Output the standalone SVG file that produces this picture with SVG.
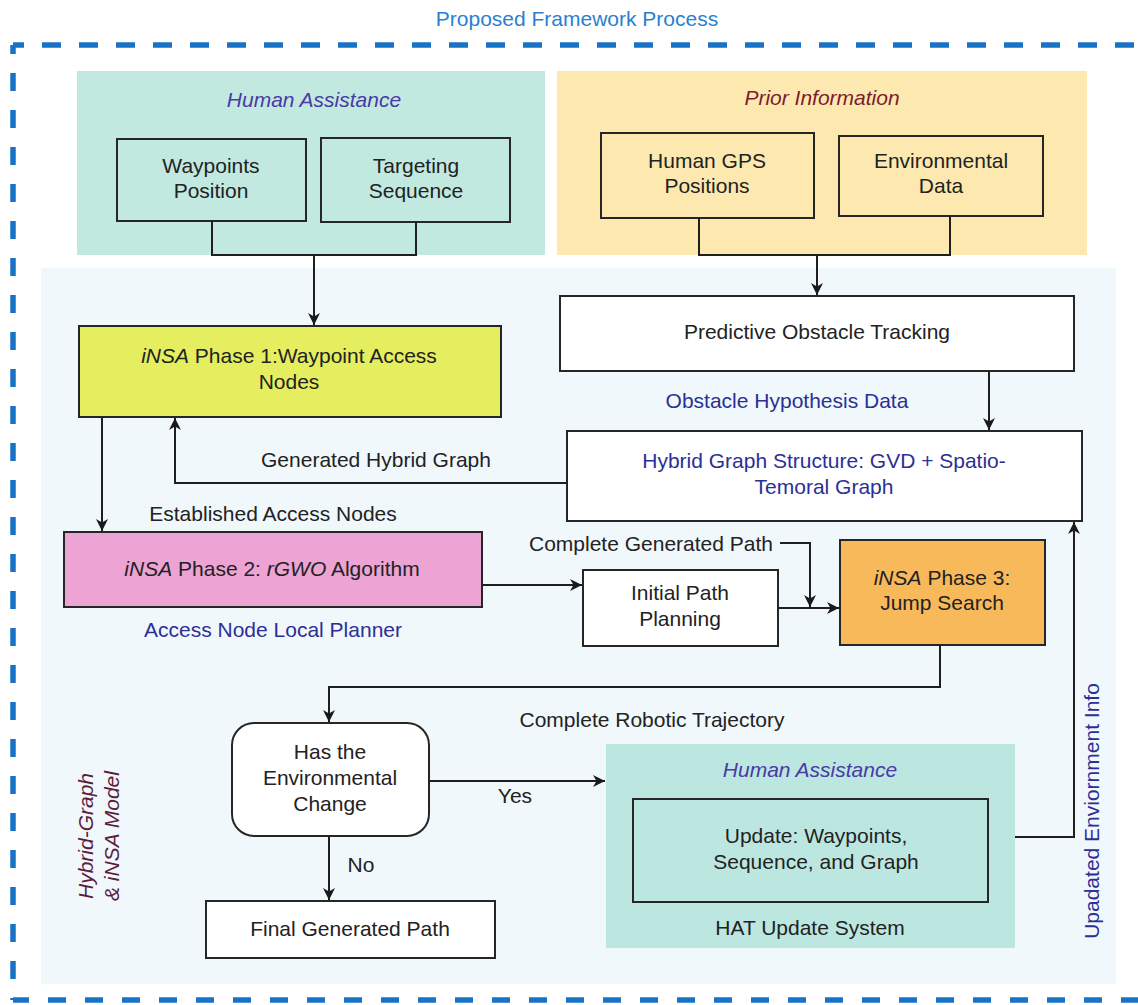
<svg xmlns="http://www.w3.org/2000/svg" width="1138" height="1005" viewBox="0 0 1138 1005">
  <defs>
    <marker id="arrow" markerUnits="userSpaceOnUse" markerWidth="13" markerHeight="12" refX="12" refY="6" orient="auto">
      <path d="M0,0 L12,6 L0,12 L3.5,6 z" fill="#1a1a1a"/>
    </marker>
    <style>
      text { font-family: "Liberation Sans", Arial, sans-serif; font-size: 21px; fill: #222; text-anchor: middle; }
      .title { font-size: 21px; fill: #2a7fd2; }
      .head-teal { font-style: italic; fill: #4b39a6; }
      .head-prior { font-style: italic; fill: #7a1c2c; }
      .blue { fill: #2c2f96; }
      .side { font-style: italic; fill: #5e1c3c; }
      .it { font-style: italic; }
      .box { stroke: #262626; stroke-width: 2; }
      .white { fill: #ffffff; }
      .teal { fill: #c1e9e0; }
      .conn { fill: none; stroke: #1f1f1f; stroke-width: 2; }
      .dash { fill: none; stroke: #1873c6; stroke-width: 5.5; }
    </style>
  </defs>

  <!-- outer framework border -->
  <text class="title" x="577" y="26">Proposed Framework Process</text>
  <path class="dash" d="M13,45 H1140" stroke-dasharray="19 18" stroke-dashoffset="8"/>
  <path class="dash" d="M13,45 V1000" stroke-dasharray="18 19" stroke-dashoffset="9"/>
  <path class="dash" d="M13,1000 H1140" stroke-dasharray="18 19" stroke-dashoffset="2"/>

  <!-- model region -->
  <rect id="model-region" x="41" y="268" width="1075" height="716" fill="#f0f8fc"/>
  <g id="model-label">
    <text class="side" transform="translate(93,836) rotate(-90)">Hybrid-Graph</text>
    <text class="side" transform="translate(119,836) rotate(-90)">&amp; iNSA Model</text>
  </g>

  <!-- human assistance inputs -->
  <g id="human-assistance">
    <rect x="77" y="71" width="468" height="184" class="teal"/>
    <text class="head-teal" x="314" y="107">Human Assistance</text>
  </g>
  <g id="waypoints-position">
    <rect x="117" y="139" width="189" height="82" class="box teal"/>
    <text x="211" y="173">Waypoints</text>
    <text x="211" y="198">Position</text>
  </g>
  <g id="targeting-sequence">
    <rect x="321" y="138" width="189" height="84" class="box teal"/>
    <text x="416" y="173">Targeting</text>
    <text x="416" y="198">Sequence</text>
  </g>

  <!-- prior information inputs -->
  <g id="prior-information">
    <rect x="557" y="71" width="530" height="184" fill="#fde9b0"/>
    <text class="head-prior" x="822" y="105">Prior Information</text>
  </g>
  <g id="human-gps">
    <rect x="601" y="133" width="213" height="85" class="box" fill="#fde9b0"/>
    <text x="707" y="168">Human GPS</text>
    <text x="707" y="193">Positions</text>
  </g>
  <g id="environmental-data">
    <rect x="839" y="136" width="204" height="80" class="box" fill="#fde9b0"/>
    <text x="941" y="168">Environmental</text>
    <text x="941" y="193">Data</text>
  </g>

  <!-- processing nodes -->
  <g id="predictive-tracking">
    <rect x="560" y="296" width="514" height="75" class="box white"/>
    <text x="817" y="339">Predictive Obstacle Tracking</text>
  </g>
  <g id="phase1">
    <rect x="79" y="326" width="422" height="91" class="box" fill="#e4ee5e"/>
    <text x="289" y="363"><tspan class="it">iNSA</tspan> Phase 1:Waypoint Access</text>
    <text x="289" y="389">Nodes</text>
  </g>
  <g id="hybrid-graph">
    <rect x="567" y="431" width="515" height="90" class="box white"/>
    <text class="blue" x="824" y="468">Hybrid Graph Structure: GVD + Spatio-</text>
    <text class="blue" x="824" y="494">Temoral Graph</text>
  </g>
  <g id="phase2">
    <rect x="64" y="532" width="418" height="75" class="box" fill="#eda3d4"/>
    <text x="272" y="576"><tspan class="it">iNSA</tspan> Phase 2: <tspan class="it">rGWO</tspan> Algorithm</text>
  </g>
  <g id="initial-path">
    <rect x="583" y="570" width="195" height="76" class="box white"/>
    <text x="680" y="600">Initial Path</text>
    <text x="680" y="626">Planning</text>
  </g>
  <g id="phase3">
    <rect x="840" y="540" width="205" height="105" class="box" fill="#f7b95a"/>
    <text x="942" y="585"><tspan class="it">iNSA</tspan> Phase 3:</text>
    <text x="942" y="610">Jump Search</text>
  </g>
  <g id="decision">
    <rect x="232" y="723" width="197" height="113" rx="22" ry="22" class="box white"/>
    <text x="330" y="759">Has the</text>
    <text x="330" y="785">Environmental</text>
    <text x="330" y="811">Change</text>
  </g>
  <g id="final-path">
    <rect x="206" y="901" width="289" height="57" class="box white"/>
    <text x="350" y="936">Final Generated Path</text>
  </g>
  <g id="hat-update">
    <rect x="606" y="744" width="409" height="204" fill="#bce7e0"/>
    <text class="head-teal" x="810" y="777">Human Assistance</text>
    <rect x="633" y="799" width="355" height="103" class="box" fill="#bce7e0"/>
    <text x="816" y="843">Update: Waypoints,</text>
    <text x="816" y="869">Sequence, and Graph</text>
    <text x="810" y="935">HAT Update System</text>
  </g>

  <!-- connectors -->
  <g id="connectors">
    <path class="conn" d="M212,221 V255 H416 V222"/>
    <path class="conn" d="M314,255 V325" marker-end="url(#arrow)"/>
    <path class="conn" d="M699,218 V255 H950 V216"/>
    <path class="conn" d="M817,255 V295" marker-end="url(#arrow)"/>
    <path class="conn" d="M989,371 V430" marker-end="url(#arrow)"/>
    <path class="conn" d="M567,483 H175 V418" marker-end="url(#arrow)"/>
    <path class="conn" d="M102,417 V531" marker-end="url(#arrow)"/>
    <path class="conn" d="M482,585 H582" marker-end="url(#arrow)"/>
    <path class="conn" d="M780,543 H810 V607" marker-end="url(#arrow)"/>
    <path class="conn" d="M778,608 H839" marker-end="url(#arrow)"/>
    <path class="conn" d="M940,645 V687 H329 V722" marker-end="url(#arrow)"/>
    <path class="conn" d="M429,781 H605" marker-end="url(#arrow)"/>
    <path class="conn" d="M329,836 V900" marker-end="url(#arrow)"/>
    <path class="conn" d="M1015,837 H1074 V522" marker-end="url(#arrow)"/>
  </g>

  <!-- connector labels -->
  <g id="labels">
    <text class="blue" x="787" y="408">Obstacle Hypothesis Data</text>
    <text x="376" y="467">Generated Hybrid Graph</text>
    <text x="273" y="521">Established Access Nodes</text>
    <text x="651" y="551">Complete Generated Path</text>
    <text class="blue" x="273" y="637">Access Node Local Planner</text>
    <text x="652" y="727">Complete Robotic Trajectory</text>
    <text x="515" y="803">Yes</text>
    <text x="361" y="872">No</text>
    <text class="blue" transform="translate(1099,811) rotate(-90)">Upadated Enviornment Info</text>
  </g>
</svg>
